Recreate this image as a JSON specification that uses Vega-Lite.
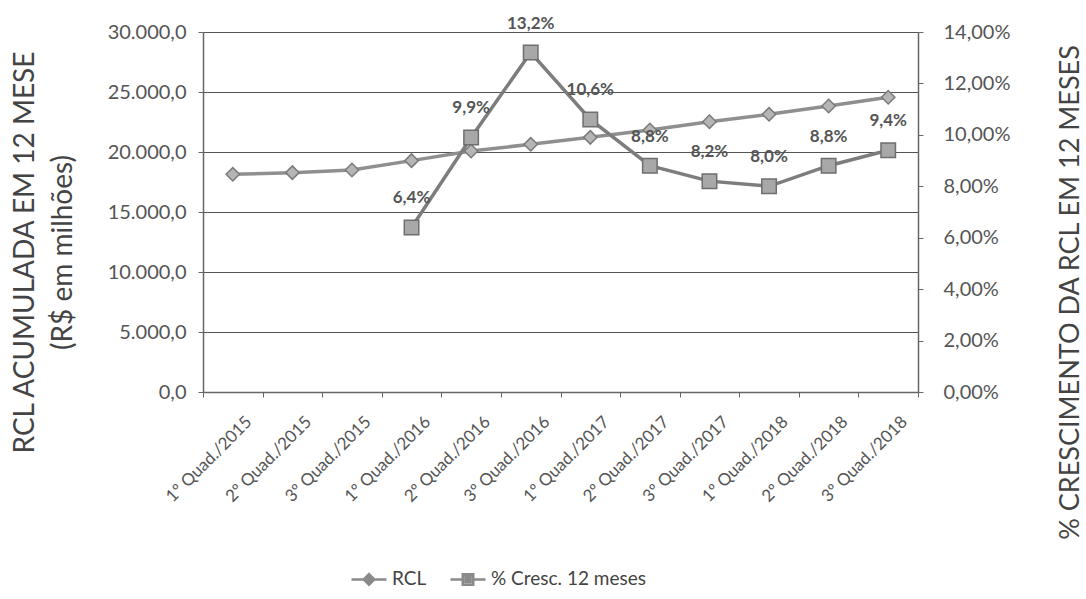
{
  "$schema": "https://vega.github.io/schema/vega-lite/v6.json",
  "width": 715,
  "height": 360,
  "autosize": {"type": "none"},
  "padding": {"left": 203, "top": 32, "right": 168, "bottom": 207},
  "background": "white",
  "config": {
    "locale": {"number": {"decimal": ",", "thousands": ".", "grouping": [3], "currency": ["R$ ", ""]}},
    "view": {"stroke": null},
    "font": "Lato",
    "axis": {"labelFont": "Lato", "titleFont": "Lato", "labelColor": "#555555", "titleColor": "#444444", "domainColor": "#666666", "tickColor": "#666666"}
  },
  "datasets": {
    "rcl": [
      {"q": "1º Quad./2015", "rcl": 18140},
      {"q": "2º Quad./2015", "rcl": 18280},
      {"q": "3º Quad./2015", "rcl": 18500},
      {"q": "1º Quad./2016", "rcl": 19280},
      {"q": "2º Quad./2016", "rcl": 20080},
      {"q": "3º Quad./2016", "rcl": 20640},
      {"q": "1º Quad./2017", "rcl": 21220},
      {"q": "2º Quad./2017", "rcl": 21830},
      {"q": "3º Quad./2017", "rcl": 22520},
      {"q": "1º Quad./2018", "rcl": 23140},
      {"q": "2º Quad./2018", "rcl": 23830},
      {"q": "3º Quad./2018", "rcl": 24560}
    ],
    "cresc": [
      {"q": "1º Quad./2016", "cresc": 0.064},
      {"q": "2º Quad./2016", "cresc": 0.099},
      {"q": "3º Quad./2016", "cresc": 0.132},
      {"q": "1º Quad./2017", "cresc": 0.106},
      {"q": "2º Quad./2017", "cresc": 0.088},
      {"q": "3º Quad./2017", "cresc": 0.082},
      {"q": "1º Quad./2018", "cresc": 0.080},
      {"q": "2º Quad./2018", "cresc": 0.088},
      {"q": "3º Quad./2018", "cresc": 0.094}
    ],
    "legend": [
      {"serie": "RCL"},
      {"serie": "% Cresc. 12 meses"}
    ]
  },
  "layer": [
    {
      "data": {"name": "rcl"},
      "encoding": {
        "x": {
          "field": "q", "type": "nominal",
          "scale": {"type": "band", "paddingInner": 0, "paddingOuter": 0,
            "domain": ["1º Quad./2015", "2º Quad./2015", "3º Quad./2015", "1º Quad./2016", "2º Quad./2016", "3º Quad./2016", "1º Quad./2017", "2º Quad./2017", "3º Quad./2017", "1º Quad./2018", "2º Quad./2018", "3º Quad./2018"]},
          "axis": {"title": null, "labelAngle": -45, "labelAlign": "right", "labelBaseline": "middle", "labelFontSize": 17, "labelOffset": 16, "labelPadding": 22, "labelOverlap": false, "tickBand": "extent", "tickSize": 5, "domainWidth": 1.5, "grid": false}
        },
        "y": {
          "field": "rcl", "type": "quantitative",
          "scale": {"domain": [0, 30000]},
          "axis": {"orient": "left", "values": [0, 5000, 10000, 15000, 20000, 25000, 30000], "format": ",.1f", "labelFontSize": 20, "labelPadding": 12, "tickSize": 5, "grid": true, "gridColor": "#555555", "gridWidth": 1.2, "domainWidth": 1.5,
            "title": ["RCL ACUMULADA EM 12 MESE", "(R$ em milhões)"], "titleFontSize": 28, "titleFontWeight": "normal", "titleAngle": -90, "titleAlign": "center", "titleBaseline": "top", "titleX": -192, "titleY": 220, "titleLineHeight": 38}
        }
      },
      "layer": [
        {"mark": {"type": "line", "color": "#8f8f8f", "strokeWidth": 3.5}},
        {"mark": {"type": "point", "shape": "diamond", "filled": true, "fill": "#b5b5b5", "stroke": "#7a7a7a", "strokeWidth": 1.5, "size": 180, "opacity": 1}}
      ]
    },
    {
      "data": {"name": "cresc"},
      "encoding": {
        "x": {"field": "q", "type": "nominal",
          "axis": {"title": null, "labelAngle": -45, "labelAlign": "right", "labelBaseline": "middle", "labelFontSize": 17, "labelOffset": 16, "labelPadding": 22, "labelOverlap": false, "tickBand": "extent", "tickSize": 5, "domainWidth": 1.5, "grid": false}},
        "y": {
          "field": "cresc", "type": "quantitative",
          "scale": {"domain": [0, 0.14]},
          "axis": {"orient": "right", "values": [0, 0.02, 0.04, 0.06, 0.08, 0.1, 0.12, 0.14], "format": ".2%", "labelFontSize": 20, "labelPadding": 20, "tickSize": 5, "grid": false, "domainWidth": 1.5,
            "title": "% CRESCIMENTO DA RCL EM 12 MESES", "titleFontSize": 27, "titleFontWeight": "normal", "titleAngle": -90, "titleAlign": "center", "titleBaseline": "top", "titleX": 139, "titleY": 260}
        }
      },
      "layer": [
        {"mark": {"type": "line", "color": "#7d7d7d", "strokeWidth": 3.5}},
        {"mark": {"type": "point", "shape": "square", "filled": true, "fill": "#a8a8a8", "stroke": "#6e6e6e", "strokeWidth": 1.5, "size": 210, "opacity": 1}},
        {"mark": {"type": "text", "dy": -29, "fontSize": 17, "fontWeight": "bold", "color": "#555555", "font": "Lato"},
         "encoding": {"text": {"field": "cresc", "type": "quantitative", "format": ".1%"}}}
      ]
    },
    {
      "data": {"name": "legend"},
      "transform": [{"filter": "false"}],
      "mark": {"type": "point", "filled": false, "stroke": "#8a8a8a", "strokeWidth": 2.5, "opacity": 1},
      "encoding": {
        "shape": {
          "field": "serie", "type": "nominal",
          "scale": {"domain": ["RCL", "% Cresc. 12 meses"],
            "range": ["M-1,0H-0.3M0.3,0H1M0,-0.3L0.3,0L0,0.3L-0.3,0ZM0,-0.15L0.15,0L0,0.15L-0.15,0ZM0,-0.05L0.05,0L0,0.05L-0.05,0Z", "M-1,0H-0.3M0.3,0H1M-0.3,-0.3H0.3V0.3H-0.3ZM-0.15,-0.15H0.15V0.15H-0.15ZM-0.04,-0.04H0.04V0.04H-0.04Z"]},
          "legend": {"title": null, "orient": "none", "direction": "horizontal", "legendX": 147, "legendY": 528, "symbolSize": 1225, "symbolStrokeWidth": 2.5, "symbolStrokeColor": "#8a8a8a", "labelFont": "Lato", "labelFontSize": 19, "labelColor": "#444444", "labelOffset": 4, "columnPadding": 18}
        }
      }
    }
  ],
  "resolve": {"scale": {"y": "independent"}}
}
